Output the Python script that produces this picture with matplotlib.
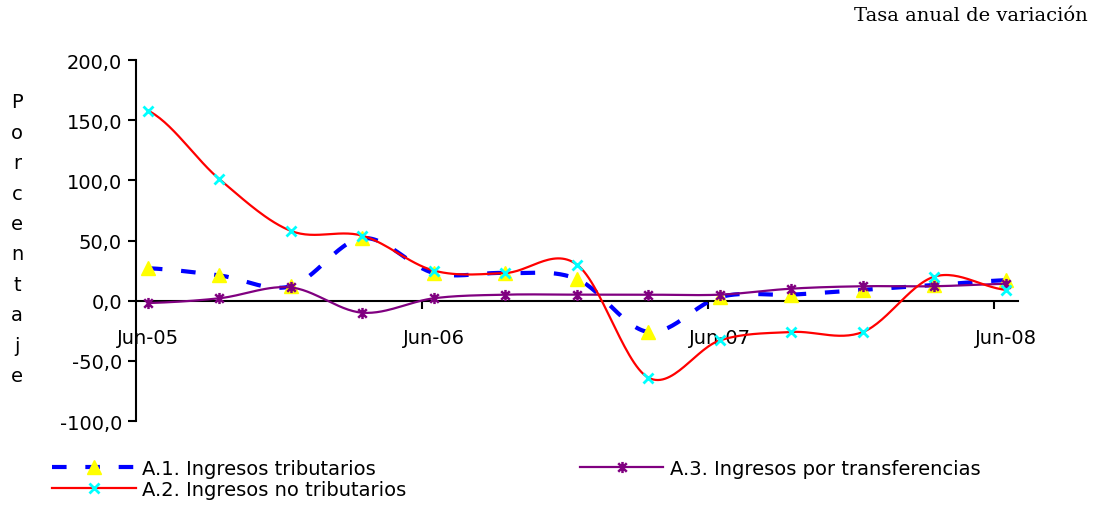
import numpy as np
import matplotlib
matplotlib.use("Agg")
import matplotlib.pyplot as plt
from matplotlib.path import Path
from matplotlib.ticker import FuncFormatter
from matplotlib.lines import Line2D

# trimestres desde Jun-05 (en meses)
meses = [0, 3, 6, 9, 12, 15, 18, 21, 24, 27, 30, 33, 36]
etiquetas_x = ["Jun-05", "Jun-06", "Jun-07", "Jun-08"]

tributarios = [27, 21, 12, 52, 23, 23, 18, -26, 3, 5, 9, 13, 17]
no_tributarios = [158, 101, 58, 54, 25, 23, 30, -64, -33, -26, -26, 20, 9]
transferencias = [-2, 2, 11, -10, 2, 5, 5, 5, 5, 10, 12, 12, 14]

nombres = ["A.1. Ingresos tributarios",
           "A.2. Ingresos no tributarios",
           "A.3. Ingresos por transferencias"]


def suavizar(x, y, n=30):
    # curva suavizada tipo Excel (Catmull-Rom)
    x = np.asarray(x, float)
    y = np.asarray(y, float)
    m = np.zeros_like(y)
    m[1:-1] = (y[2:] - y[:-2]) / 2
    m[0] = (y[1] - y[0]) / 2
    m[-1] = (y[-1] - y[-2]) / 2
    xs, ys = [], []
    for i in range(len(x) - 1):
        t = np.linspace(0, 1, n, endpoint=False)
        h00 = 2 * t**3 - 3 * t**2 + 1
        h10 = t**3 - 2 * t**2 + t
        h01 = -2 * t**3 + 3 * t**2
        h11 = t**3 - t**2
        xs.extend(x[i] + t * (x[i + 1] - x[i]))
        ys.extend(h00 * y[i] + h10 * m[i] + h01 * y[i + 1] + h11 * m[i + 1])
    xs.append(x[-1])
    ys.append(y[-1])
    return xs, ys


# marcador asterisco (x + linea vertical)
estrella = Path([(-1, -1), (1, 1), (-1, 1), (1, -1), (0, -1.3), (0, 1.3)],
                [Path.MOVETO, Path.LINETO, Path.MOVETO, Path.LINETO,
                 Path.MOVETO, Path.LINETO])

plt.rcParams['font.family'] = ['DejaVu Sans']
fig = plt.figure(figsize=(10.99, 5.06), dpi=100)
ax = fig.add_axes([0.1237, 0.166, 0.8025, 0.7134])

azul = "#0000FF"
rojo = "#FF0000"
morado = "#800080"

xs, ys = suavizar(meses, tributarios)
ax.plot(xs, ys, color=azul, lw=3, dashes=(3.5, 4.5), zorder=2)
ax.plot(meses, tributarios, ls="none", marker="^", ms=10.5, color="#FFFF00",
        mec="#FFFF00", zorder=3)

xs, ys = suavizar(meses, transferencias)
ax.plot(xs, ys, color=morado, lw=1.6, zorder=4)
ax.plot(meses, transferencias, ls="none", marker=estrella, ms=8, mew=1.8,
        color=morado, zorder=5)

xs, ys = suavizar(meses, no_tributarios)
ax.plot(xs, ys, color=rojo, lw=1.6, zorder=6)
ax.plot(meses, no_tributarios, ls="none", marker="x", ms=7, mew=2,
        color="#00FFFF", zorder=7)

ax.set_xlim(-0.5, 36.5)
ax.set_ylim(-100, 200)
ax.set_yticks(np.arange(-100, 201, 50))
ax.yaxis.set_major_formatter(FuncFormatter(lambda v, p: f"{v:.1f}".replace(".", ",")))

ax.spines["top"].set_visible(False)
ax.spines["right"].set_visible(False)
ax.spines["bottom"].set_position(("data", 0))
ax.spines["bottom"].set_linewidth(1.5)
ax.spines["left"].set_linewidth(1.5)

ax.set_xticks([0, 12, 24, 36])
ax.set_xticklabels(etiquetas_x)
ax.set_xticks([11.5, 23.5, 35.5], minor=True)
ax.tick_params(axis="x", which="major", length=0, pad=20, labelsize=14)
ax.tick_params(axis="x", which="minor", length=6, width=1.5, direction="out")
ax.tick_params(axis="y", length=6, width=1.5, labelsize=14, pad=4)

# leyenda
h1 = Line2D([], [], color=azul, lw=3, dashes=(3.5, 4.5), marker="^", ms=10.5,
            mfc="#FFFF00", mec="#FFFF00")
h2 = Line2D([], [], color=rojo, lw=1.6, marker="x", ms=7, mew=2, mec="#00FFFF")
h3 = Line2D([], [], color=morado, lw=1.6, marker=estrella, ms=8, mew=1.8)
fig.legend([h1, h2, h3], nombres, ncol=2, loc="upper left",
           bbox_to_anchor=(52 / 1099, 1 - 460 / 506), frameon=False,
           fontsize=14, handlelength=4.3, handletextpad=0.35,
           columnspacing=8.9, labelspacing=0.1, borderpad=0,
           borderaxespad=0, numpoints=1)

# titulo del eje Y, letra por letra
for i, letra in enumerate("Porcentaje"):
    fig.text(17 / 1099, 1 - (103 + i * 30.4) / 506, letra, ha="center",
             va="center", fontsize=14)

fig.text(1088 / 1099, 1 - 16 / 506, "Tasa anual de variación", ha="right",
         va="center", family="DejaVu Serif", fontsize=14)

fig.savefig("out.png", dpi=100)
